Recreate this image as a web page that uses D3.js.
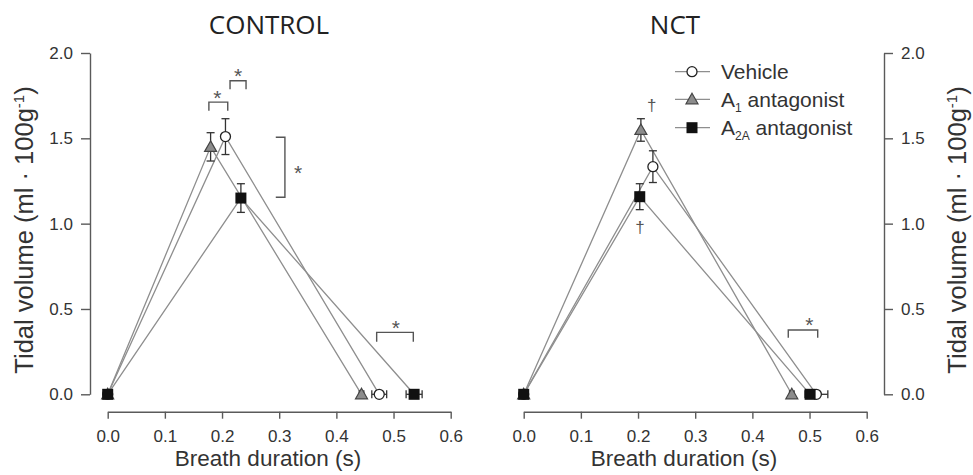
<!DOCTYPE html>
<html><head><meta charset="utf-8">
<script src="https://cdn.jsdelivr.net/npm/d3@7"></script>
<style>
body{margin:0;background:#fff;}
svg{display:block;font-family:"Liberation Sans",Arial,sans-serif;}
</style></head><body>
<svg id="chart" width="973" height="475"></svg>
<script>
// ---- data ----
const series = ["Vehicle", "A1 antagonist", "A2A antagonist"];
const xTicks = [0, 0.1, 0.2, 0.3, 0.4, 0.5, 0.6];
const yTicks = [0, 0.5, 1.0, 1.5, 2.0];
// CONTROL
const ctlPeakX = [0.206, 0.180, 0.233];
const ctlPeakY = [1.51, 1.45, 1.15];
const ctlPeakYErr = [0.105, 0.083, 0.084];
const ctlEndX = [0.475, 0.444, 0.536];
const ctlEndXErr = [0.013, 0.004, 0.014];
// NCT
const nctPeakX = [0.226, 0.205, 0.203];
const nctPeakY = [1.334, 1.549, 1.158];
const nctPeakYErr = [0.093, 0.066, 0.076];
const nctEndX = [0.512, 0.469, 0.501];
const nctEndXErr = [0.02, 0.004, 0.006];
// significance annotations (data units)
const ctlBrackets = [
  {x1: 0.177, x2: 0.210, y: 1.712, leg: 0.05, dir: "h", sx: 0.192, sy: 1.768, sym: "*"},
  {x1: 0.214, x2: 0.242, y: 1.837, leg: 0.05, dir: "h", sx: 0.228, sy: 1.897, sym: "*"},
  {x: 0.310, y1: 1.506, y2: 1.155, legX: 0.294, dir: "v", sx: 0.333, sy: 1.325, sym: "*"},
  {x1: 0.4705, x2: 0.5346, y: 0.363, leg: 0.055, dir: "h", sx: 0.504, sy: 0.42, sym: "*"}
];
const nctBrackets = [
  {x1: 0.4628, x2: 0.5143, y: 0.377, leg: 0.045, dir: "h", sx: 0.4998, sy: 0.436, sym: "*"}
];
const nctDaggers = [
  {x: 0.224, y: 1.696, sym: "\u2020"},
  {x: 0.2035, y: 0.982, sym: "\u2020"}
];

const svg = d3.select("#chart");
const lineCol = "#8e8e8e", axisCol = "#5a5a5a", textCol = "#333";
const fills = ["#fff", "#8c8c8c", "#111"];
const strokes = ["#222", "#444", "#111"];

const yScale = d3.scaleLinear().domain([0, 2]).range([394.3, 53]);

function marker(g, i, x, y) {
  if (i === 0) {
    g.append("circle").attr("cx", x).attr("cy", y).attr("r", 5)
      .attr("fill", fills[0]).attr("stroke", strokes[0]).attr("stroke-width", 1.3);
  } else if (i === 1) {
    const s = 6;
    g.append("path").attr("d", `M${x},${y - s}L${x + s},${y + s * 0.75}L${x - s},${y + s * 0.75}Z`)
      .attr("fill", fills[1]).attr("stroke", strokes[1]).attr("stroke-width", 1.2);
  } else {
    g.append("rect").attr("x", x - 5.5).attr("y", y - 5.5).attr("width", 11).attr("height", 11)
      .attr("fill", fills[2]);
  }
}

function panel(opts) {
  const x = d3.scaleLinear().domain([0, 0.6]).range(opts.xr);
  const g = svg.append("g");
  // x axis
  const xa = g.append("g").attr("transform", "translate(0,411.7)")
    .call(d3.axisBottom(x).tickValues(xTicks).tickFormat(d3.format(".1f")).tickSize(7).tickSizeOuter(0).tickPadding(11));
  // y axis
  const yAxis = (opts.right ? d3.axisRight(yScale) : d3.axisLeft(yScale))
    .tickValues(yTicks).tickFormat(d3.format(".1f")).tickSize(9).tickSizeOuter(0).tickPadding(8);
  const ya = g.append("g").attr("transform", `translate(${opts.yAxisX},0)`).call(yAxis);
  [xa, ya].forEach(a => {
    a.select(".domain").attr("stroke", axisCol).attr("stroke-width", 1.4);
    a.selectAll(".tick line").attr("stroke", axisCol).attr("stroke-width", 1.4);
    a.selectAll(".tick text").attr("fill", textCol).style("font-size", "17px");
  });
  // title
  g.append("text").attr("x", opts.titleX).attr("y", 34).attr("text-anchor", "middle")
    .style("font-family", "'Open Sans',sans-serif").style("font-size", "26px").attr("fill", "#222")
    .text(opts.title);
  // x label
  g.append("text").attr("x", opts.xLabelX).attr("y", 466).attr("text-anchor", "middle")
    .style("font-size", "22.5px").attr("fill", textCol).text("Breath duration (s)");
  // y label
  const yl = g.append("text").attr("transform", `translate(${opts.yLabelX},230) rotate(-90)`)
    .attr("text-anchor", "middle").style("font-size", "25.5px").attr("fill", textCol);
  yl.append("tspan").text("Tidal volume (ml \u00b7 100g");
  yl.append("tspan").attr("dy", -9).style("font-size", "15px").text("-1");
  yl.append("tspan").attr("dy", 9).text(")");

  // lines
  const line = d3.line().x(d => x(d[0])).y(d => yScale(d[1]));
  series.forEach((s, i) => {
    const pts = [[0, 0], [opts.peakX[i], opts.peakY[i]], [opts.endX[i], 0]];
    g.append("path").attr("d", line(pts)).attr("fill", "none")
      .attr("stroke", lineCol).attr("stroke-width", 1.3);
  });
  // error bars
  const eb = g.append("g").attr("stroke", "#333").attr("stroke-width", 1.3);
  series.forEach((s, i) => {
    const px = x(opts.peakX[i]);
    const y1 = yScale(opts.peakY[i] + opts.peakYErr[i]), y2 = yScale(opts.peakY[i] - opts.peakYErr[i]);
    eb.append("line").attr("x1", px).attr("x2", px).attr("y1", y1).attr("y2", y2);
    eb.append("line").attr("x1", px - 4).attr("x2", px + 4).attr("y1", y1).attr("y2", y1);
    eb.append("line").attr("x1", px - 4).attr("x2", px + 4).attr("y1", y2).attr("y2", y2);
    const ey = yScale(0);
    const ex1 = x(opts.endX[i] - opts.endXErr[i]), ex2 = x(opts.endX[i] + opts.endXErr[i]);
    eb.append("line").attr("x1", ex1).attr("x2", ex2).attr("y1", ey).attr("y2", ey);
    eb.append("line").attr("x1", ex1).attr("x2", ex1).attr("y1", ey - 4).attr("y2", ey + 4);
    eb.append("line").attr("x1", ex2).attr("x2", ex2).attr("y1", ey - 4).attr("y2", ey + 4);
  });
  // markers
  const mg = g.append("g");
  series.forEach((s, i) => {
    marker(mg, i, x(0), yScale(0));
    marker(mg, i, x(opts.peakX[i]), yScale(opts.peakY[i]));
    marker(mg, i, x(opts.endX[i]), yScale(0));
  });
  // brackets
  const bg = g.append("g");
  opts.brackets.forEach(b => {
    let d;
    if (b.dir === "h") {
      d = `M${x(b.x1)},${yScale(b.y - b.leg)}V${yScale(b.y)}H${x(b.x2)}V${yScale(b.y - b.leg)}`;
    } else {
      d = `M${x(b.legX)},${yScale(b.y1)}H${x(b.x)}V${yScale(b.y2)}H${x(b.legX)}`;
    }
    bg.append("path").attr("d", d).attr("fill", "none").attr("stroke", "#555").attr("stroke-width", 1.4);
    bg.append("text").attr("x", x(b.sx)).attr("y", yScale(b.sy) + 12).attr("text-anchor", "middle")
      .style("font-size", "21px").attr("fill", "#555").text(b.sym);
  });
  (opts.daggers || []).forEach(dg => {
    bg.append("text").attr("x", x(dg.x)).attr("y", yScale(dg.y) + 6).attr("text-anchor", "middle")
      .style("font-size", "17px").attr("fill", "#555").text(dg.sym);
  });
  return x;
}

panel({xr: [107.7, 450.7], yAxisX: 90, right: false, title: "CONTROL", titleX: 269,
  xLabelX: 268, yLabelX: 33,
  peakX: ctlPeakX, peakY: ctlPeakY, peakYErr: ctlPeakYErr, endX: ctlEndX, endXErr: ctlEndXErr,
  brackets: ctlBrackets});
panel({xr: [523.7, 866.7], yAxisX: 884, right: true, title: "NCT", titleX: 675,
  xLabelX: 684, yLabelX: 966,
  peakX: nctPeakX, peakY: nctPeakY, peakYErr: nctPeakYErr, endX: nctEndX, endXErr: nctEndXErr,
  brackets: nctBrackets, daggers: nctDaggers});

// legend
const legY = [71.7, 99.3, 127.7];
const lg = svg.append("g");
series.forEach((s, i) => {
  lg.append("line").attr("x1", 675).attr("x2", 710).attr("y1", legY[i]).attr("y2", legY[i])
    .attr("stroke", lineCol).attr("stroke-width", 1.3);
  marker(lg, i, 692, legY[i]);
  const t = lg.append("text").attr("x", 721).attr("y", legY[i] + 7.5)
    .style("font-size", "21px").attr("fill", textCol);
  if (i === 0) {
    t.text(s);
  } else {
    const sub = i === 1 ? "1" : "2A";
    t.append("tspan").text("A");
    t.append("tspan").attr("dy", 5).style("font-size", "12px").text(sub);
    t.append("tspan").attr("dy", -5).text(" antagonist");
  }
});
</script>
</body></html>
